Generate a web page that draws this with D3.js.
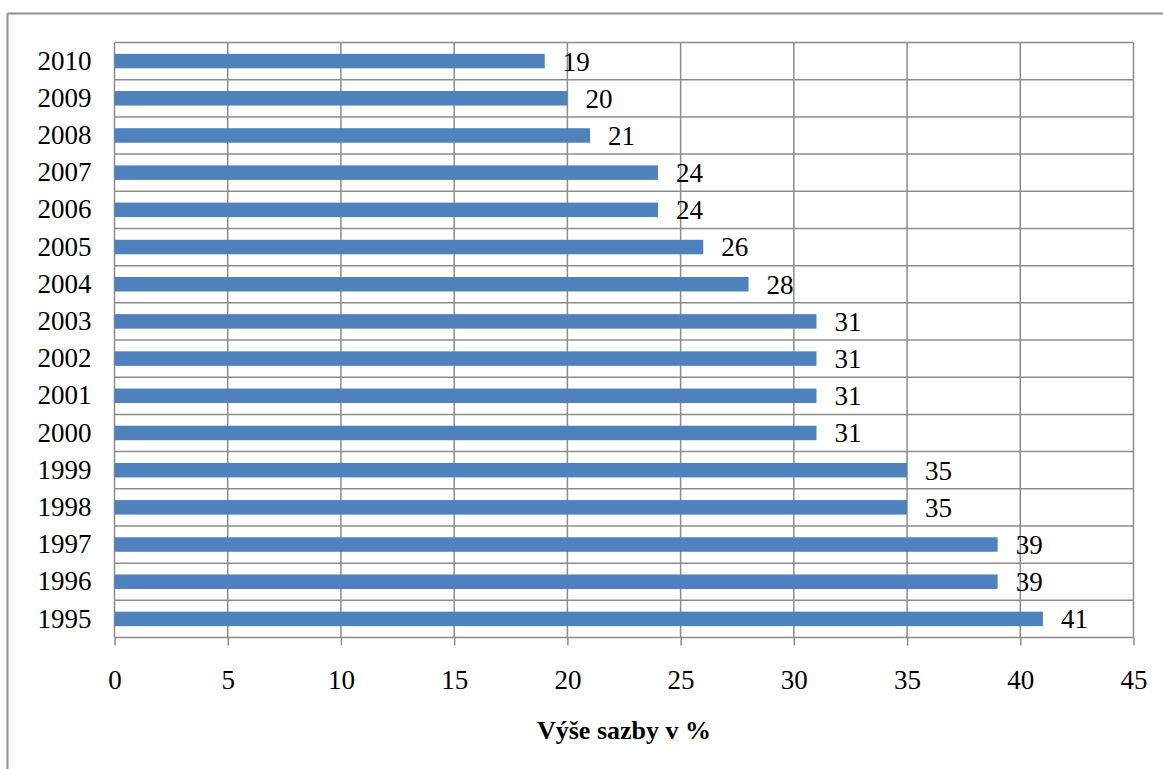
<!DOCTYPE html>
<html>
<head>
<meta charset="utf-8">
<script src="https://cdn.jsdelivr.net/npm/d3@7"></script>
<style>
  html, body { margin: 0; padding: 0; background: #fff; }
  svg { display: block; }
  text { font-family: "Liberation Serif", "Times New Roman", serif; fill: #000; }
</style>
</head>
<body>
<svg id="chart" width="1163" height="769"></svg>
<script>
// Corporate income tax rate by year (%)
const years = ["1995", "1996", "1997", "1998", "1999", "2000", "2001", "2002",
               "2003", "2004", "2005", "2006", "2007", "2008", "2009", "2010"];
const rates = [41, 39, 39, 35, 35, 31, 31, 31, 31, 28, 26, 24, 24, 21, 20, 19];
const xTicks = [0, 5, 10, 15, 20, 25, 30, 35, 40, 45];
const xTitle = "Výše sazby v %";

const data = years.map((y, i) => ({ year: y, rate: rates[i] }));

const svg = d3.select("#chart");
const W = 1163, H = 769;
const plot = { left: 114.5, right: 1133.5, top: 42.5, bottom: 637.5 };
const gridColor = "#8c8c8c";
const barColor = "#4f81bd";
const fontSize = "27px";

// Outer frame (top and left edges visible)
svg.append("line").attr("x1", 7.5).attr("x2", W).attr("y1", 13.5).attr("y2", 13.5)
  .attr("stroke", "#8f8f8f").attr("stroke-width", 2);
svg.append("line").attr("x1", 7.5).attr("x2", 7.5).attr("y1", 13.5).attr("y2", H)
  .attr("stroke", "#8f8f8f").attr("stroke-width", 2);

const x = d3.scaleLinear().domain([0, 45]).range([plot.left, plot.right]);
const y = d3.scaleBand().domain(years.slice().reverse()).range([plot.top, plot.bottom]).padding(0);

// Vertical gridlines
svg.append("g").selectAll("line").data(xTicks).join("line")
  .attr("x1", d => x(d)).attr("x2", d => x(d))
  .attr("y1", plot.top).attr("y2", plot.bottom)
  .attr("stroke", gridColor).attr("stroke-width", 1.5);

// Horizontal gridlines at category boundaries
const bounds = years.map(yr => y(yr)).concat([plot.bottom]);
svg.append("g").selectAll("line").data(bounds).join("line")
  .attr("x1", plot.left).attr("x2", plot.right)
  .attr("y1", d => d).attr("y2", d => d)
  .attr("stroke", gridColor).attr("stroke-width", 1.5);

// X axis ticks and labels
const xAxis = d3.axisBottom(x).tickValues(xTicks).tickSize(8).tickPadding(24).tickFormat(d3.format("d"));
const gx = svg.append("g").attr("transform", `translate(0,${plot.bottom})`).call(xAxis);
gx.select(".domain").remove();
gx.selectAll(".tick line").attr("stroke", gridColor).attr("stroke-width", 1.5);
gx.selectAll(".tick text").style("font-family", "'Liberation Serif', serif").style("font-size", fontSize).attr("fill", "#000");

// Y axis labels
const yAxis = d3.axisLeft(y).tickSize(0).tickPadding(23);
const gy = svg.append("g").attr("transform", `translate(${plot.left},0)`).call(yAxis);
gy.select(".domain").remove();
gy.selectAll(".tick text").style("font-family", "'Liberation Serif', serif").style("font-size", fontSize).attr("fill", "#000");

// Bars
const barH = y.bandwidth() * 0.39;
svg.append("g").selectAll("rect").data(data).join("rect")
  .attr("x", x(0))
  .attr("y", d => y(d.year) + (y.bandwidth() - barH) / 2)
  .attr("width", d => x(d.rate) - x(0))
  .attr("height", barH)
  .attr("fill", barColor);

// Value labels
svg.append("g").selectAll("text").data(data).join("text")
  .attr("x", d => x(d.rate) + 18)
  .attr("y", d => y(d.year) + y.bandwidth() / 2)
  .attr("dy", "0.35em")
  .style("font-size", fontSize)
  .text(d => d.rate);

// Axis title
svg.append("text")
  .attr("x", (plot.left + plot.right) / 2)
  .attr("y", 739)
  .attr("text-anchor", "middle")
  .style("font-size", "26px")
  .style("font-weight", "bold")
  .text(xTitle);
</script>
</body>
</html>
